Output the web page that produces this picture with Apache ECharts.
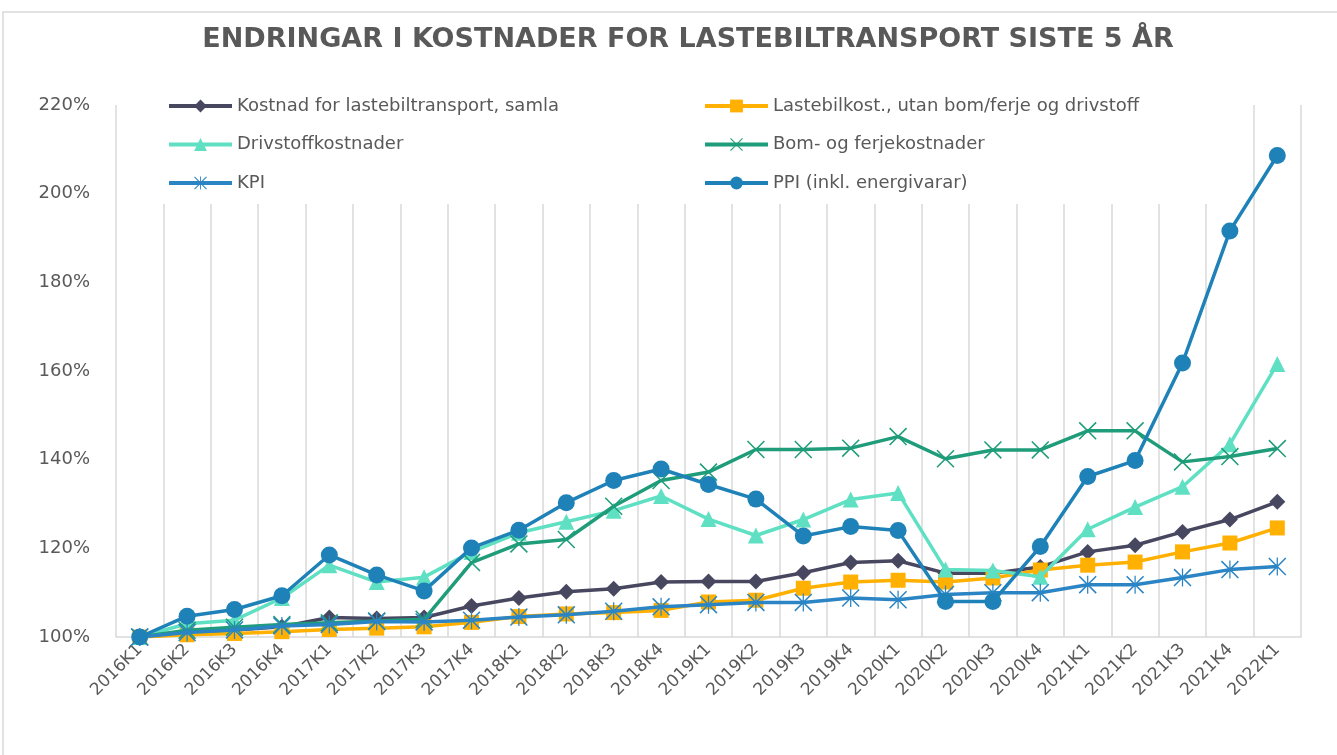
<!DOCTYPE html>
<html>
<head>
<meta charset="utf-8">
<script src="https://cdn.jsdelivr.net/npm/echarts@6/dist/echarts.min.js"></script>
<style>
html,body{margin:0;padding:0;background:#fff;}
#chart{width:1337px;height:755px;}
</style>
</head>
<body>
<div id="chart"></div>
<script>
var titleText = 'ENDRINGAR I KOSTNADER FOR LASTEBILTRANSPORT SISTE 5 ÅR';
var categories = ['2016K1','2016K2','2016K3','2016K4','2017K1','2017K2','2017K3','2017K4','2018K1','2018K2','2018K3','2018K4','2019K1','2019K2','2019K3','2019K4','2020K1','2020K2','2020K3','2020K4','2021K1','2021K2','2021K3','2021K4','2022K1'];
var seriesNames = ['Kostnad for lastebiltransport, samla','Lastebilkost., utan bom/ferje og drivstoff','Drivstoffkostnader','Bom- og ferjekostnader','KPI','PPI (inkl. energivarar)'];
var kostnadSamla = [100, 100.8, 101.6, 102.3, 104.4, 104.2, 104.4, 107.0, 108.8, 110.2, 110.9, 112.4, 112.5, 112.5, 114.5, 116.8, 117.2, 114.4, 114.4, 115.8, 119.2, 120.7, 123.7, 126.5, 130.5];
var lastebilkost = [100, 100.5, 100.8, 101.2, 101.7, 102.0, 102.3, 103.3, 104.6, 105.2, 105.5, 106.0, 107.9, 108.3, 111.0, 112.4, 112.8, 112.4, 113.3, 115.1, 116.2, 116.9, 119.2, 121.2, 124.6];
var drivstoff = [100, 103.0, 103.8, 108.8, 116.2, 112.4, 113.5, 119.2, 123.5, 126.0, 128.5, 131.8, 126.6, 122.9, 126.5, 131.0, 132.5, 115.2, 115.0, 113.6, 124.3, 129.3, 133.9, 143.5, 161.6];
var bomFerje = [100, 101.5, 102.2, 102.8, 103.2, 103.6, 104.0, 116.8, 121.0, 122.0, 129.5, 135.3, 137.2, 142.3, 142.3, 142.6, 145.2, 140.2, 142.2, 142.2, 146.5, 146.5, 139.5, 140.7, 142.5];
var kpi = [100, 101.0, 101.6, 102.5, 102.8, 103.5, 103.4, 103.8, 104.5, 105.0, 105.8, 106.8, 107.3, 107.8, 107.8, 108.8, 108.4, 109.6, 110.0, 110.0, 111.8, 111.8, 113.4, 115.2, 115.9];
var ppi = [100, 104.7, 106.2, 109.3, 118.5, 114.0, 110.4, 120.1, 124.1, 130.3, 135.3, 137.9, 134.4, 131.1, 122.8, 124.9, 124.0, 108.0, 108.0, 120.4, 136.2, 139.8, 161.8, 191.6, 208.6];
var yTicks = [100, 120, 140, 160, 180, 200, 220];

var colors = ['#474760', '#FFB000', '#5FE0C3', '#1F9C79', '#2B85C4', '#1E82B8'];
var xSym = 'path://M0,1.2L1.2,0L20,18.8L18.8,20Z M18.8,0L20,1.2L1.2,20L0,18.8Z';
var starSym = 'path://M0,1.2L1.2,0L20,18.8L18.8,20Z M18.8,0L20,1.2L1.2,20L0,18.8Z M9.3,0L10.7,0L10.7,20L9.3,20Z';
var symbols = ['diamond', 'rect', 'triangle', xSym, starSym, 'circle'];
var symbolSizes = [16, 15, 16, 18, 18, 17];
var dataSets = [kostnadSamla, lastebilkost, drivstoff, bomFerje, kpi, ppi];

var font = "'DejaVu Sans', 'Liberation Sans', sans-serif";
var chart = echarts.init(document.getElementById('chart'));

var series = seriesNames.map(function (n, i) {
  return {
    name: n,
    type: 'line',
    data: dataSets[i],
    symbol: symbols[i],
    symbolSize: symbolSizes[i],
    showAllSymbol: true,
    lineStyle: { color: colors[i], width: 3.5 },
    itemStyle: { color: colors[i], borderWidth: 0 },
    emphasis: { disabled: true },
    animation: false,
    z: 2 + i * 0.01
  };
});

function legendCfg(items, left) {
  return {
    data: items,
    orient: 'vertical', left: left, top: 97, padding: 0,
    itemWidth: 63, itemHeight: 16, itemGap: 20.5,
    lineStyle: { width: 4 },
    textStyle: { fontFamily: font, fontSize: 18, color: '#595959' },
    selectedMode: false
  };
}

var option = {
  animation: false,
  backgroundColor: '#ffffff',
  title: {
    text: titleText,
    left: 683,
    top: 21,
    textAlign: 'center',
    textStyle: { fontFamily: font, fontSize: 27, fontWeight: 'bold', color: '#595959' }
  },
  graphic: [
    { type: 'rect', z: 0, shape: { x: 3, y: 12, width: 1345, height: 760 }, style: { fill: 'none', stroke: '#d9d9d9', lineWidth: 1.5 } },
    { type: 'rect', z: 1, shape: { x: 140, y: 98, width: 1098, height: 106 }, style: { fill: '#ffffff' } }
  ],
  legend: [
    legendCfg([seriesNames[0], seriesNames[2], seriesNames[4]], 167),
    legendCfg([seriesNames[1], seriesNames[3], seriesNames[5]], 703)
  ],
  grid: { left: 116, right: 36, top: 105, bottom: 118, containLabel: false },
  xAxis: {
    type: 'category',
    data: categories,
    boundaryGap: true,
    axisLine: { show: true, lineStyle: { color: '#d9d9d9', width: 1.5 } },
    axisTick: { show: false },
    splitLine: { show: true, interval: 0, lineStyle: { color: '#d9d9d9', width: 1.5 } },
    axisLabel: { interval: 0, rotate: 45, margin: 10, fontFamily: font, fontSize: 17, color: '#595959' }
  },
  yAxis: {
    type: 'value',
    min: yTicks[0],
    max: yTicks[yTicks.length - 1],
    interval: 20,
    axisLine: { show: false },
    axisTick: { show: false },
    splitLine: { show: false },
    axisLabel: { margin: 26, fontFamily: font, fontSize: 18, color: '#595959', formatter: '{value}%' }
  },
  series: series
};
chart.setOption(option);
</script>
</body>
</html>
